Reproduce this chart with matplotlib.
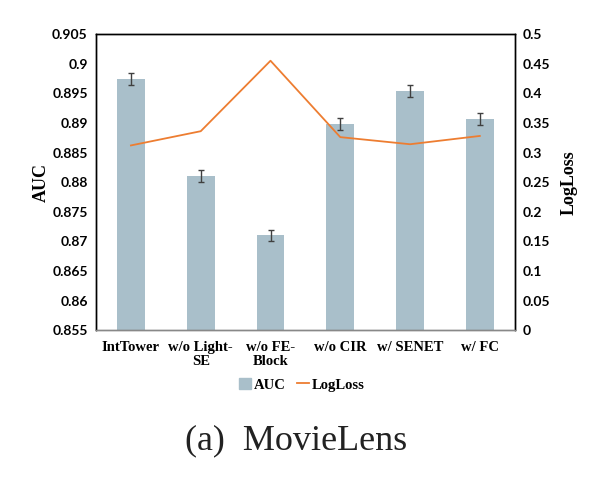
import matplotlib.pyplot as plt
import numpy as np
from matplotlib.patches import Patch
from matplotlib.lines import Line2D

categories = ['IntTower', 'w/o Light-\nSE', 'w/o FE-\nBlock', 'w/o CIR', 'w/ SENET', 'w/ FC']
auc = [0.8974, 0.8811, 0.8710, 0.8898, 0.8954, 0.8907]
auc_err = [0.001, 0.001, 0.001, 0.001, 0.001, 0.001]
logloss = [0.312, 0.336, 0.455, 0.326, 0.314, 0.328]

bar_colour = '#A9BFCA'
line_colour = '#ED7D31'
tick_font = {'family': 'Lato', 'weight': 'bold', 'size': 10}
serif_bold = {'family': 'Liberation Serif', 'weight': 'bold'}

fig = plt.figure(figsize=(5.93, 4.87), dpi=100)
ax = fig.add_axes([0.162, 0.322, 0.706, 0.608])
x = np.arange(len(categories))

ax.bar(x, auc, width=0.4, color=bar_colour, yerr=auc_err,
       error_kw=dict(ecolor='#404040', elinewidth=1, capsize=2.5, capthick=1))
ax.set_ylim(0.855, 0.905)
ax.set_xlim(-0.5, len(categories) - 0.5)
ax.set_yticks(np.arange(0.855, 0.9051, 0.005))
ax.set_yticklabels(['0.855', '0.86', '0.865', '0.87', '0.875', '0.88', '0.885',
                    '0.89', '0.895', '0.9', '0.905'], fontdict=tick_font)
ax.set_xticks(x)
ax.set_xticklabels(categories, fontsize=10.5, linespacing=1.1, **serif_bold)
ax.tick_params(axis='x', length=0, pad=8)
ax.tick_params(axis='y', length=0, pad=6)
ax.set_ylabel('AUC', fontsize=13, labelpad=2, **serif_bold)

ax2 = ax.twinx()
ax2.plot(x, logloss, color=line_colour, linewidth=1.3)
ax2.set_ylim(0, 0.5)
ax2.set_yticks(np.arange(0, 0.501, 0.05))
ax2.set_yticklabels(['0', '0.05', '0.1', '0.15', '0.2', '0.25', '0.3', '0.35',
                     '0.4', '0.45', '0.5'], fontdict=tick_font)
ax2.tick_params(axis='y', length=0, pad=6)
ax2.set_ylabel('LogLoss', fontsize=13, rotation=90, labelpad=7, **serif_bold)

for a in (ax, ax2):
    for s in a.spines.values():
        s.set_color('black')
        s.set_linewidth(1)
ax.spines['bottom'].set_color('#888888')
ax2.spines['bottom'].set_color('#888888')

handles = [Patch(color=bar_colour, label='AUC'),
           Line2D([0], [0], color=line_colour, linewidth=1.3, label='LogLoss')]
fig.legend(handles=handles, loc='center', bbox_to_anchor=(302 / 593, 1 - 385 / 487),
           ncol=2, frameon=False, prop={'family': 'Liberation Serif', 'weight': 'bold', 'size': 10.5},
           handlelength=0.8, handletextpad=0.2, columnspacing=0.8)

fig.text(296 / 593, 1 - 441 / 487, '(a)  MovieLens', ha='center', va='center',
         fontsize=26, family='Liberation Serif', color='#222222')

fig.savefig('out.png', dpi=100)
